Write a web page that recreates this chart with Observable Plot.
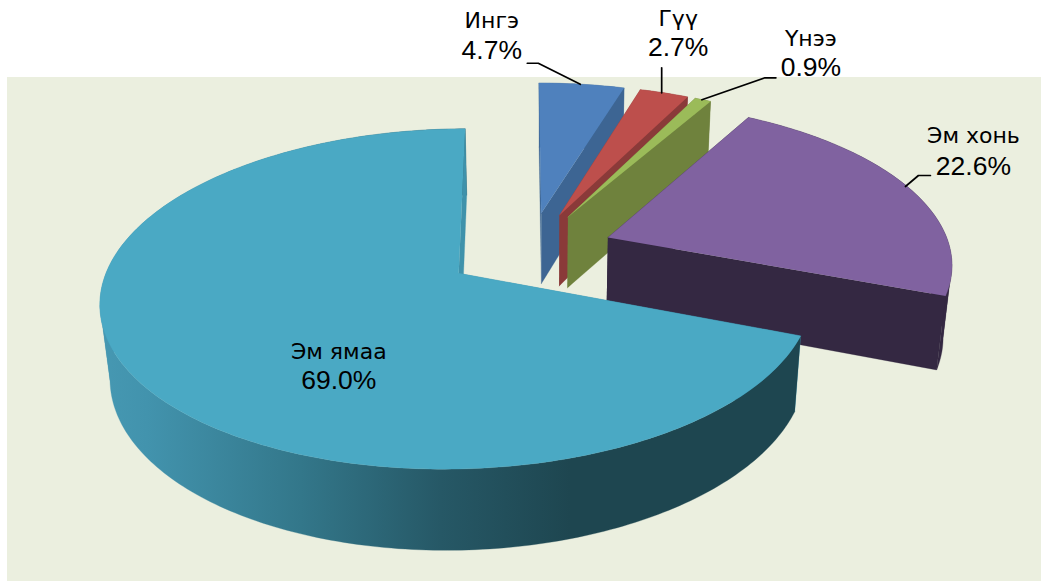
<!DOCTYPE html>
<html><head><meta charset="utf-8">
<script src="https://cdn.jsdelivr.net/npm/d3@7"></script>
<script src="https://cdn.jsdelivr.net/npm/@observablehq/plot@0.6"></script>
<style>html,body{margin:0;padding:0;background:#fff}svg{display:block}</style>
</head><body><div id="chart"></div>
<script>
// Data
const categories = ["Ингэ","Гүү","Үнээ","Эм хонь","Эм ямаа"];
const shares = [4.7,2.7,0.9,22.6,69.0];
const topColors = ["#4f81bd","#bd4f4c","#9bbb59","#8062a0","#4aa9c4"];
const wallColors = ["#3d6593","#8a3a39","#6f823d","#342842","url(#mainWall)"];
const cutColors = ["#3d6593","#8a3a39","#6f823d","#342842","#3f92ab"];
const wallStopX = [100,147,300,440,570];
const wallStopColor = ["#4698b2","#4293ad","#33778a","#265866","#1e4650"];
// label placement relative to each slice's anchor (rim middle; inside for the largest slice)
const labelDx = [-90,14,108,65,34.5];
const labelDy = [-25,-36.5,-23.8,-13,66];
const nameGap = [31,30,30,32,30];
const leaderDx = [[-1.5,-43.5,-54.5],[-2.5,-2.5],[-1,62,73],[-3,10,22],null];
const leaderDy = [[0,-21,-21],[0,-25],[0,-22,-22],[-1,-12,-12],null];

// Perspective of the exploded pie (world units: radius = 1)
const cam = {x0:529,y0:250,b:346,c:-77,a:122.6,k:0.1474,m:0.0035,explode:0.245,nx:545,ny:3600,t0:0.02155};
const proj = (u,v,down=false) => {
  const D = 1-cam.k*v+cam.m*u;
  let X=(cam.x0+cam.b*u+cam.c*v)/D, Y=(cam.y0+cam.a*v)/D;
  if(down){const t=cam.t0/D; X+=(cam.nx-X)*t; Y+=(cam.ny-Y)*t;}
  return [X,Y];
};
const DEG=Math.PI/180;
let acc=0;
const slices = categories.map((name,i)=>{
  const a0=acc*3.6, a1=(acc+shares[i])*3.6; acc+=shares[i];
  const mid=(a0+a1)/2*DEG;
  return {i,name,a0,a1,cu:cam.explode*Math.sin(mid),cv:-cam.explode*Math.cos(mid)};
});
const rim=(s,deg,r=1)=>[s.cu+r*Math.sin(deg*DEG),s.cv-r*Math.cos(deg*DEG)];
const polys=[];let pid=0;
const addPoly=(pts,fill)=>{const id=pid++;pts.forEach(p=>polys.push({id,x:p[0],y:p[1],fill}));};
slices.forEach(s=>{
  const steps=Math.max(6,Math.round((s.a1-s.a0)/1));
  const as=d3.range(steps+1).map(j=>s.a0+(s.a1-s.a0)*j/steps);
  const ap=[s.cu,s.cv], st=rim(s,s.a0), en=rim(s,s.a1);
  addPoly([proj(...ap),proj(...st),proj(...st,true),proj(...ap,true)],cutColors[s.i]);
  // outer wall: one polygon per run between the rim's silhouette turns, so none twists over itself
  let run=[as[0]],dir=0;
  const flush=()=>addPoly([...run.map(a=>proj(...rim(s,a))),...run.slice().reverse().map(a=>proj(...rim(s,a),true))],wallColors[s.i]);
  for(let j=1;j<as.length;j++){
    const d=Math.sign(proj(...rim(s,as[j]))[0]-proj(...rim(s,as[j-1]))[0]);
    if(dir&&d&&d!==dir){flush();run=[as[j-1]];}
    if(d)dir=d;
    run.push(as[j]);
  }
  flush();
  addPoly([proj(...ap),proj(...en),proj(...en,true),proj(...ap,true)],cutColors[s.i]);
  addPoly([proj(...ap),...as.map(a=>proj(...rim(s,a)))],topColors[s.i]);
});

const anchors=slices.map(s=>proj(...rim(s,(s.a0+s.a1)/2,s.i===4?0.5:1)));
const labels=slices.map((s,i)=>({
  name:s.name,pct:shares[i].toFixed(1)+"%",
  x:anchors[i][0]+labelDx[i],y:anchors[i][1]+labelDy[i],nameY:anchors[i][1]+labelDy[i]-nameGap[i]
}));
const leaders=[];
slices.forEach((s,i)=>{ if(!leaderDx[i])return;
  leaderDx[i].forEach((d,j)=>leaders.push({i,x:anchors[i][0]+d,y:anchors[i][1]+leaderDy[i][j]}));
});

const W=1041,H=581;
const defs=()=>{
  const d=d3.create("svg:defs");
  const g=d.append("linearGradient").attr("id","mainWall").attr("gradientUnits","userSpaceOnUse")
    .attr("x1",wallStopX[0]).attr("x2",wallStopX[wallStopX.length-1]).attr("y1",0).attr("y2",0);
  wallStopX.forEach((x,i)=>g.append("stop")
    .attr("offset",(x-wallStopX[0])/(wallStopX[wallStopX.length-1]-wallStopX[0]))
    .attr("stop-color",wallStopColor[i]));
  return d.node();
};
const plot=Plot.plot({
  width:W,height:H,margin:0,
  x:{domain:[0,W],range:[0,W],axis:null},
  y:{domain:[0,H],range:[0,H],axis:null},
  color:{type:"identity"},
  marks:[
    defs,
    Plot.rect([{x1:7,x2:W,y1:77,y2:H}],{x1:"x1",x2:"x2",y1:"y1",y2:"y2",fill:"#ebefdf"}),
    Plot.line(polys,{x:"x",y:"y",z:"id",fill:"fill",stroke:"fill",strokeWidth:0.3,curve:"linear"}),
    Plot.line(leaders,{x:"x",y:"y",z:"i",stroke:"#000",strokeWidth:1.7,curve:"linear"}),
    Plot.text(labels,{x:"x",y:"nameY",text:"name",fontFamily:"DejaVu Sans",fontSize:22,fill:"#000",textAnchor:"middle",lineAnchor:"bottom"}),
    Plot.text(labels,{x:"x",y:"y",text:"pct",fontFamily:"Liberation Sans",fontSize:26.5,fill:"#000",textAnchor:"middle",lineAnchor:"bottom"})
  ]
});
document.getElementById("chart").append(plot);
</script></body></html>
